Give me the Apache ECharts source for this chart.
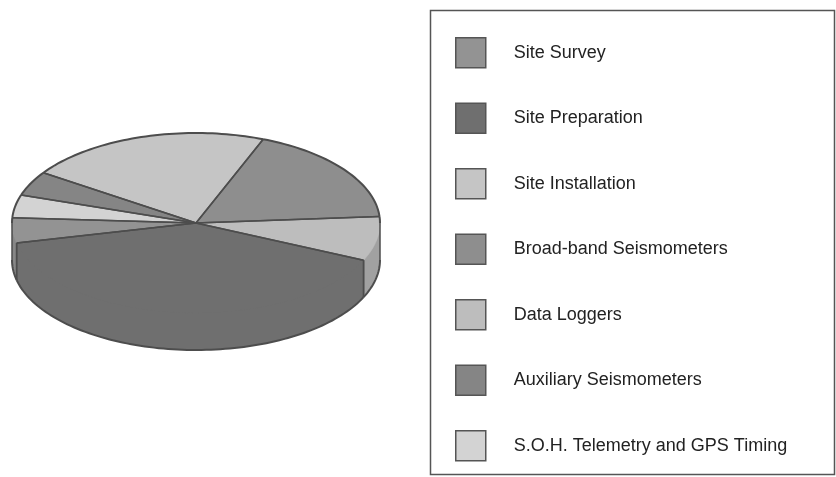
<!DOCTYPE html>
<html>
<head>
<meta charset="utf-8">
<script src="https://cdn.jsdelivr.net/npm/echarts@6/dist/echarts.min.js"></script>
<style>
  html, body { margin: 0; padding: 0; background: #fff; }
  #chart { width: 836px; height: 477px; }
</style>
</head>
<body>
<div id="chart"></div>
<script>
// Cost categories, in legend order
const categories = [
  'Site Survey',
  'Site Preparation',
  'Site Installation',
  'Broad-band Seismometers',
  'Data Loggers',
  'Auxiliary Seismometers',
  'S.O.H. Telemetry and GPS Timing'
];
// Share of the total budget, percent (same order as categories)
const shares = [4.5, 39.6, 21.5, 17.9, 7.9, 4.4, 4.1];
// Order in which the slices run counter-clockwise round the pie (category indices)
const pieOrder = [4, 3, 2, 5, 6, 0, 1];

// Grey fills for each category, and how much darker each slice's wall is
const fills = ['#939393', '#6f6f6f', '#c5c5c5', '#8e8e8e', '#bdbdbd', '#858585', '#d3d3d3'];
const wallShade = [0.92, 1.0, 0.9, 0.92, 0.85, 0.92, 0.88];

// Layout of the tilted pie
const PIE = { cx: 196, cy: 223, rx: 184, ry: 90, depth: 37, startDeg: -24.4 };
const EDGE = '#4d4d4d';

const total = shares.reduce((a, b) => a + b, 0);

function sliceRange(c) {
  let acc = 0;
  for (const i of pieOrder) {
    if (i === c) {
      return [PIE.startDeg + acc / total * 360, PIE.startDeg + (acc + shares[i]) / total * 360];
    }
    acc += shares[i];
  }
}

function rim(deg, dy) {
  const t = deg * Math.PI / 180;
  return [PIE.cx + PIE.rx * Math.cos(t), PIE.cy - PIE.ry * Math.sin(t) + (dy || 0)];
}

function arc(a, b, dy) {
  const n = Math.max(2, Math.ceil(Math.abs(b - a) / 1.5));
  const pts = [];
  for (let k = 0; k <= n; k++) pts.push(rim(a + (b - a) * k / n, dy));
  return pts;
}

function overlap(a0, a1, windows) {
  const out = [];
  for (const [w0, w1] of windows) {
    const lo = Math.max(a0, w0), hi = Math.min(a1, w1);
    if (hi > lo) out.push([lo, hi]);
  }
  return out;
}

function shade(hex, f) {
  const v = parseInt(hex.slice(1), 16);
  const r = Math.round(((v >> 16) & 255) * f), g = Math.round(((v >> 8) & 255) * f), b = Math.round((v & 255) * f);
  return 'rgb(' + r + ',' + g + ',' + b + ')';
}

function makeRenderer(c) {
  return function () {
    const [t0, t1] = sliceRange(c);
    const color = fills[c];
    const children = [];
    // front wall (visible lower half of the rim); its upper edge tucks just
    // under the top face so no seam shows between them
    const fronts = overlap(t0, t1, [[-180, 0], [180, 360]]);
    for (const [lo, hi] of fronts) {
      const top = arc(lo, hi, -2);
      const bottom = arc(lo, hi, PIE.depth).reverse();
      const wall = shade(color, wallShade[c]);
      children.push({ type: 'polygon', shape: { points: top.concat(bottom) },
        style: { fill: wall, stroke: null }, z2: 1 });
      children.push({ type: 'polyline', shape: { points: arc(lo, hi, PIE.depth) },
        style: { stroke: EDGE, lineWidth: 2, fill: null }, z2: 10 });
      for (const e of [lo, hi]) {
        children.push({ type: 'line', shape: { x1: rim(e)[0], y1: rim(e)[1], x2: rim(e)[0], y2: rim(e)[1] + PIE.depth },
          style: { stroke: EDGE, lineWidth: 1.5 }, z2: 10 });
      }
    }
    // top face
    children.push({ type: 'polygon', shape: { points: [[PIE.cx, PIE.cy]].concat(arc(t0, t1, 0)) },
      style: { fill: color, stroke: color, lineWidth: 0.6 }, z2: 2 });
    // back rim outline
    for (const [lo, hi] of overlap(t0, t1, [[-360, -180], [0, 180], [360, 540]])) {
      children.push({ type: 'polyline', shape: { points: arc(lo, hi, 0) },
        style: { stroke: EDGE, lineWidth: 2, fill: null }, z2: 10 });
    }
    // radial edges
    for (const e of [t0, t1]) {
      const p = rim(e);
      children.push({ type: 'line', shape: { x1: PIE.cx, y1: PIE.cy, x2: p[0], y2: p[1] },
        style: { stroke: EDGE, lineWidth: 1.5 }, z2: 10 });
    }
    return { type: 'group', children };
  };
}

const series = categories.map((name, c) => ({
  type: 'custom',
  name,
  coordinateSystem: 'none',
  renderItem: makeRenderer(c),
  itemStyle: { color: fills[c] },
  data: [shares[c]],
  silent: true
}));

const chart = echarts.init(document.getElementById('chart'), null, { renderer: 'canvas' });
chart.setOption({
  animation: false,
  backgroundColor: '#ffffff',
  legend: {
    orient: 'vertical',
    left: 455,
    top: 37,
    padding: 0,
    itemWidth: 30,
    itemHeight: 30,
    itemGap: 34,
    icon: 'rect',
    selectedMode: false,
    data: categories,
    itemStyle: { borderColor: '#555555', borderWidth: 1.5 },
    textStyle: {
      fontFamily: 'Liberation Sans, Arial, sans-serif',
      fontSize: 18,
      color: '#222222',
      padding: [0, 0, 0, 23]
    }
  },
  graphic: [{
    type: 'rect',
    shape: { x: 430.5, y: 10.5, width: 404, height: 464 },
    style: { fill: null, stroke: '#555555', lineWidth: 1.5 },
    silent: true
  }],
  series
});
</script>
</body>
</html>
